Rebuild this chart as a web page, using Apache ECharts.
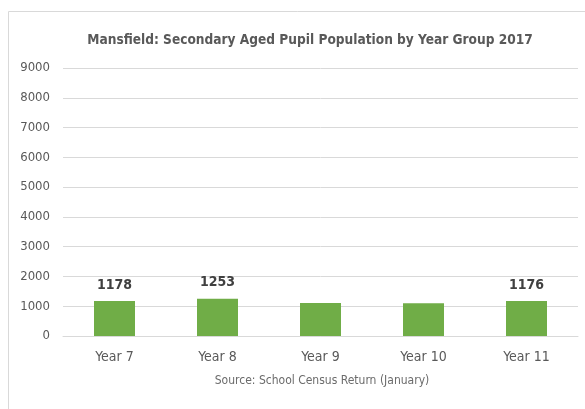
<!DOCTYPE html>
<html><head><meta charset="utf-8">
<script src="https://cdn.jsdelivr.net/npm/echarts@6/dist/echarts.min.js"></script>
<style>html,body{margin:0;padding:0;background:#fff}#c{width:585px;height:409px}</style>
</head><body><div id="c"></div>
<script>
var categories = ['Year 7', 'Year 8', 'Year 9', 'Year 10', 'Year 11'];
var pupils = [1178, 1253, 1105, 1100, 1176];
var labelled = [true, true, false, false, true];
var yTicks = [0, 1000, 2000, 3000, 4000, 5000, 6000, 7000, 8000, 9000];
var titleText = 'Mansfield: Secondary Aged Pupil Population by Year Group 2017';
var sourceText = 'Source: School Census Return (January)';

var font = '"Liberation Sans Narrow", "DejaVu Sans Condensed", sans-serif';
var chart = echarts.init(document.getElementById('c'));
chart.setOption({
  animation: false,
  title: {
    text: titleText, left: 305, top: 28, textAlign: 'center',
    textStyle: { fontFamily: font, fontSize: 13.6, fontWeight: 'bold', color: '#595959' }
  },
  graphic: [
    { type: 'rect', shape: { x: 8.5, y: 11.5, width: 600, height: 420 },
      style: { fill: 'none', stroke: '#D9D9D9', lineWidth: 1 } },
    { type: 'text', x: 322, y: 381,
      style: { text: sourceText, fontFamily: font, fontSize: 12, fill: '#6b6b6b',
        align: 'center', verticalAlign: 'middle' } }
  ],
  grid: { left: 63, right: 7, top: 68, bottom: 73, containLabel: false },
  xAxis: {
    type: 'category', data: categories,
    axisLine: { lineStyle: { color: '#D9D9D9' } },
    axisTick: { show: false },
    axisLabel: { fontFamily: font, fontSize: 14, color: '#595959', margin: 14 }
  },
  yAxis: {
    type: 'value', min: yTicks[0], max: yTicks[yTicks.length - 1], interval: 1000,
    axisLine: { show: false }, axisTick: { show: false },
    splitLine: { lineStyle: { color: '#D9D9D9' } },
    axisLabel: { fontFamily: font, fontSize: 13, color: '#595959', margin: 13,
      formatter: function (v) { return String(v); } }
  },
  series: [{
    type: 'bar', barWidth: 41,
    data: pupils.map(function (v, i) {
      return { value: v, label: { show: labelled[i] } };
    }),
    itemStyle: { color: '#70AD47' },
    label: { position: 'top', distance: 9, fontFamily: font, fontSize: 14,
      fontWeight: 'bold', color: '#404040' }
  }]
});
</script></body></html>
